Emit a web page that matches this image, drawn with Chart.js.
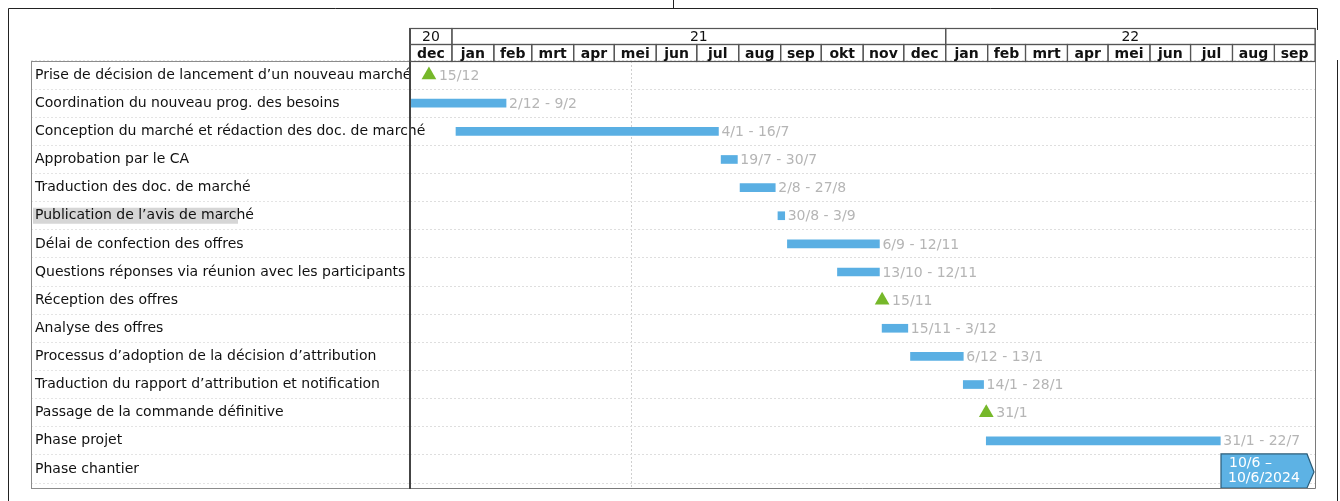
<!DOCTYPE html>
<html>
<head>
<meta charset="utf-8">
<script src="https://cdn.jsdelivr.net/npm/chart.js@4.4.0/dist/chart.umd.min.js"></script>
<style>
    html, body { margin: 0; padding: 0; background: #fff; }
    #wrap { position: relative; width: 1340px; height: 501px; }
</style>
</head>
<body>
<div id="wrap"><canvas id="gantt"></canvas></div>
<script>
(function () {
    "use strict";

    // Planning data
    var tasks = [
        "Prise de décision de lancement d’un nouveau marché",
        "Coordination du nouveau prog. des besoins",
        "Conception du marché et rédaction des doc. de marché",
        "Approbation par le CA",
        "Traduction des doc. de marché",
        "Publication de l’avis de marché",
        "Délai de confection des offres",
        "Questions réponses via réunion avec les participants",
        "Réception des offres",
        "Analyse des offres",
        "Processus d’adoption de la décision d’attribution",
        "Traduction du rapport d’attribution et notification",
        "Passage de la commande définitive",
        "Phase projet",
        "Phase chantier"
    ];
    var taskStart = ["2020-12-15", "2020-12-02", "2021-01-04", "2021-07-19", "2021-08-02", "2021-08-30", "2021-09-06",
        "2021-10-13", "2021-11-15", "2021-11-15", "2021-12-06", "2022-01-14", "2022-01-31", "2022-01-31", "2024-06-10"];
    var taskEnd = ["2020-12-15", "2021-02-09", "2021-07-16", "2021-07-30", "2021-08-27", "2021-09-03", "2021-11-12",
        "2021-11-12", "2021-11-15", "2021-12-03", "2022-01-13", "2022-01-28", "2022-01-31", "2022-07-22", "2024-06-10"];
    var milestone = [true, false, false, false, false, false, false, false, true, false, false, false, true, false, false];
    var dateLabels = ["15/12", "2/12 - 9/2", "4/1 - 16/7", "19/7 - 30/7", "2/8 - 27/8", "30/8 - 3/9", "6/9 - 12/11",
        "13/10 - 12/11", "15/11", "15/11 - 3/12", "6/12 - 13/1", "14/1 - 28/1", "31/1", "31/1 - 22/7", "10/6 –\n10/6/2024"];
    var monthNames = ["jan", "feb", "mrt", "apr", "mei", "jun", "jul", "aug", "sep", "okt", "nov", "dec"];
    var axisStart = "2020-12-01";
    var axisEnd = "2022-10-01";
    var todayLine = "2021-05-13";

    var FONT = "DejaVu Sans";

    function toDay(s) {
        var p = s.split("-");
        return Date.UTC(+p[0], +p[1] - 1, +p[2]) / 864e5;
    }

    var minDay = toDay(axisStart);
    var maxDay = toDay(axisEnd);

    var barData = tasks.map(function (t, i) {
        if (milestone[i] || toDay(taskStart[i]) > maxDay) return null;
        return [toDay(taskStart[i]), toDay(taskEnd[i]) + 1];
    });
    var milestoneData = [];
    tasks.forEach(function (t, i) {
        if (milestone[i]) milestoneData.push({x: toDay(taskStart[i]), y: t});
    });

    // Frame, header and texts
    var ganttPlugin = {
        id: "gantt",
        beforeDraw: function (chart) {
            var c = chart.ctx, a = chart.chartArea, x = chart.scales.x;
            c.save();
            // selection highlight behind one label
            c.fillStyle = "#d6d6d6";
            var yRow = chart.scales.y.getPixelForValue(5);
            c.fillRect(33, yRow - 8, 205, 16);
            // today line
            var tx = Math.round(x.getPixelForValue(toDay(todayLine))) + 0.5;
            c.strokeStyle = "#cfcfcf";
            c.setLineDash([2, 2]);
            c.lineWidth = 1;
            c.beginPath();
            c.moveTo(tx, a.top);
            c.lineTo(tx, 488);
            c.stroke();
            c.restore();
        },
        afterDatasetsDraw: function (chart) {
            var c = chart.ctx, a = chart.chartArea, x = chart.scales.x, y = chart.scales.y;
            c.save();
            c.font = "14px '" + FONT + "'";
            c.textBaseline = "middle";
            c.fillStyle = "#b5b5b5";
            tasks.forEach(function (t, i) {
                var py = y.getPixelForValue(i);
                if (milestone[i]) {
                    c.fillText(dateLabels[i], x.getPixelForValue(toDay(taskStart[i])) + 10, py + 1);
                } else if (barData[i]) {
                    c.fillText(dateLabels[i], x.getPixelForValue(barData[i][1]) + 3, py + 1);
                } else {
                    // task beyond the visible range: tag at right edge
                    var r = a.right, l = r - 94, top = py - 15, bot = 488;
                    c.fillStyle = "#5db2e4";
                    c.strokeStyle = "#2b5c78";
                    c.lineWidth = 1.2;
                    c.beginPath();
                    c.moveTo(l, top);
                    c.lineTo(r - 8, top);
                    c.lineTo(r - 1, top + 18);
                    c.lineTo(r - 8, bot);
                    c.lineTo(l, bot);
                    c.closePath();
                    c.fill();
                    c.stroke();
                    c.fillStyle = "#ffffff";
                    var lines = dateLabels[i].split("\n");
                    c.fillText(lines[0], l + 8, top + 9);
                    c.fillText(lines[1], l + 7, top + 24);
                    c.fillStyle = "#b5b5b5";
                }
            });
            c.restore();
        },
        afterDraw: function (chart) {
            var c = chart.ctx, a = chart.chartArea, x = chart.scales.x;
            c.save();
            c.lineWidth = 1;
            // outer page frame
            c.strokeStyle = "#222";
            c.beginPath();
            c.moveTo(8.5, 501); c.lineTo(8.5, 8.5); c.lineTo(1317.5, 8.5); c.lineTo(1317.5, 30);
            c.moveTo(673.5, 0); c.lineTo(673.5, 8.5);
            c.moveTo(1337.5, 60); c.lineTo(1337.5, 501);
            c.stroke();
            // label panel
            c.strokeStyle = "#8c8c8c";
            c.strokeRect(31.5, a.top + 0.5, 410 - 31, 488 - a.top);
            // chart body border
            c.strokeStyle = "#7a7a7a";
            c.beginPath();
            c.moveTo(a.right + 0.5, 28); c.lineTo(a.right + 0.5, 488.5); c.lineTo(a.left, 488.5);
            c.stroke();
            c.strokeStyle = "#444";
            c.lineWidth = 2;
            c.beginPath();
            c.moveTo(a.left, 28); c.lineTo(a.left, 489);
            c.stroke();
            // header: years and months
            var yTop = 28.5, yMid = 44.5, yBot = a.top + 0.5;
            c.lineWidth = 1.2;
            c.strokeStyle = "#555";
            c.fillStyle = "#111";
            c.textAlign = "center";
            c.textBaseline = "middle";
            var d = new Date(minDay * 864e5);
            var yearStartPx = x.getPixelForValue(minDay), curYear = d.getUTCFullYear();
            function drawYear(x0, x1, yr) {
                c.strokeRect(x0, yTop, x1 - x0, yMid - yTop);
                c.font = "14px '" + FONT + "'";
                c.fillText(String(yr).slice(2), (x0 + x1) / 2, (yTop + yMid) / 2 + 1);
            }
            while (d.getTime() / 864e5 < maxDay) {
                var m = d.getUTCMonth(), yr = d.getUTCFullYear();
                var nd = new Date(Date.UTC(yr, m + 1, 1));
                var x0 = x.getPixelForValue(d.getTime() / 864e5);
                var x1 = x.getPixelForValue(nd.getTime() / 864e5);
                c.strokeRect(x0, yMid, x1 - x0, yBot - yMid);
                c.font = "bold 14px '" + FONT + "'";
                c.fillText(monthNames[m], (x0 + x1) / 2, (yMid + yBot) / 2 + 1);
                if (nd.getUTCFullYear() !== curYear || nd.getTime() / 864e5 >= maxDay) {
                    drawYear(yearStartPx, x1, curYear);
                    yearStartPx = x1;
                    curYear = nd.getUTCFullYear();
                }
                d = nd;
            }
            c.restore();
        }
    };

    var ctx = document.getElementById("gantt").getContext("2d");
    var gantt = new Chart(ctx, {
        type: "bar",
        data: {
            labels: tasks,
            datasets: [{
                label: "Tâches",
                data: barData,
                backgroundColor: "#5aafe3",
                borderWidth: 0,
                barThickness: 8,
                order: 2
            }, {
                type: "scatter",
                label: "Jalons",
                data: milestoneData,
                pointStyle: "triangle",
                pointRadius: 8.5,
                pointHoverRadius: 8.5,
                backgroundColor: "#76b82a",
                borderColor: "#76b82a",
                borderWidth: 0,
                order: 1
            }]
        },
        options: {
            indexAxis: "y",
            responsive: true,
            maintainAspectRatio: false,
            animation: false,
            layout: {padding: {left: 35, right: 25, top: 61, bottom: 18}},
            plugins: {legend: {display: false}, tooltip: {enabled: false}},
            scales: {
                x: {
                    type: "linear",
                    min: minDay,
                    max: maxDay,
                    display: false
                },
                y: {
                    type: "category",
                    labels: tasks,
                    offset: true,
                    border: {display: false, dash: [2, 2]},
                    grid: {
                        offset: true,
                        color: "#dedede",
                        tickColor: "#e4e4e4",
                        tickLength: 379,
                        tickBorderDash: [2, 2]
                    },
                    ticks: {
                        crossAlign: "far",
                        padding: 0,
                        color: "#111",
                        font: {family: FONT, size: 14}
                    },
                    afterFit: function (scale) {
                        scale.width = 375;
                        // long labels run over the panel border, don't clip them
                        scale._computeLabelArea = function () {};
                    }
                }
            }
        },
        plugins: [ganttPlugin]
    });
})();
</script>
</body>
</html>
